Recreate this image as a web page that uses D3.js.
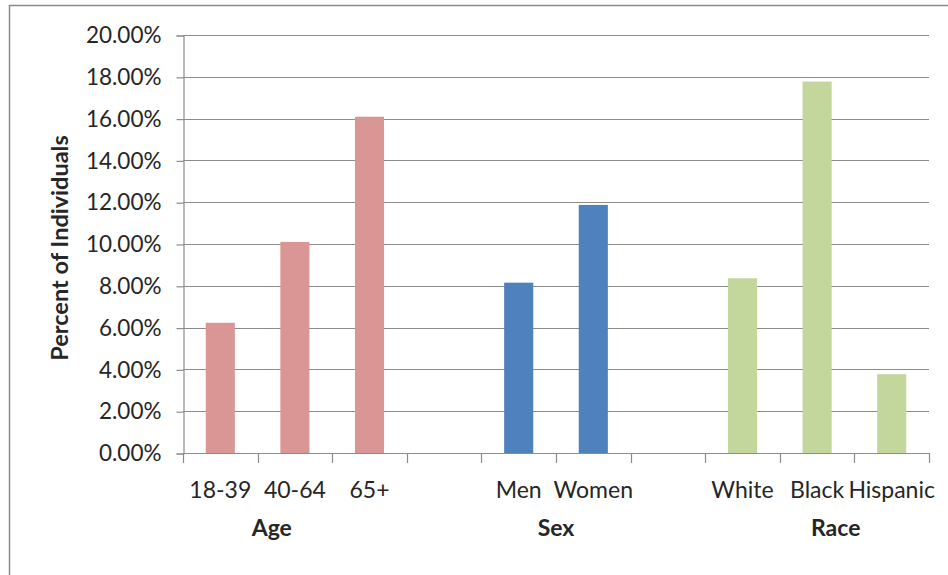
<!DOCTYPE html>
<html>
<head>
<meta charset="utf-8">
<script src="https://cdn.jsdelivr.net/npm/d3@7"></script>
<style>
  html, body { margin: 0; padding: 0; background: #fff; }
  svg { display: block; }
  text { font-family: Lato, "Open Sans", sans-serif; fill: #262626; }
</style>
</head>
<body>
<svg id="chart" width="948" height="575"></svg>
<script>
// Share of individuals by age, sex and race
const categories = ["18-39", "40-64", "65+", "gap1", "Men", "Women", "gap2", "White", "Black", "Hispanic"];
const values     = [6.23, 10.1, 16.09, null, 8.15, 11.87, null, 8.36, 17.77, 3.77];
const groupOf    = ["Age", "Age", "Age", null, "Sex", "Sex", null, "Race", "Race", "Race"];
const groups     = ["Age", "Sex", "Race"];
const groupColors = { Age: "#D99694", Sex: "#4F81BD", Race: "#C3D69B" };
const yTicks     = [0, 2, 4, 6, 8, 10, 12, 14, 16, 18, 20];
const yTitle     = "Percent of Individuals";
// where each group caption sits: reference category and offset in slot widths
const groupAnchor = { Age: ["40-64", -0.31], Sex: ["Women", -0.5], Race: ["Black", 0.25] };

const svg = d3.select("#chart");
const margin = { left: 183, right: 19, top: 35, bottom: 122 };
const W = 948, H = 575;

const x = d3.scaleBand().domain(categories).range([margin.left, W - margin.right]).padding(0);
const y = d3.scaleLinear().domain([0, 20]).range([H - margin.bottom, margin.top]);
const barW = x.step() * 0.39;
const gridColor = "#8c8c8c";

// outer frame (left and top edges)
svg.append("path")
  .attr("d", `M9.5,575 V5.5 H948`)
  .attr("fill", "none").attr("stroke", "#8a8a8a").attr("stroke-width", 1.5);

// horizontal gridlines
svg.append("g").selectAll("line")
  .data(yTicks.filter(t => t > 0))
  .join("line")
  .attr("x1", margin.left).attr("x2", W - margin.right)
  .attr("y1", d => Math.round(y(d)) + 0.5).attr("y2", d => Math.round(y(d)) + 0.5)
  .attr("stroke", gridColor).attr("stroke-width", 1.2);

// bars
svg.append("g").selectAll("rect")
  .data(categories.map((c, i) => ({ c, v: values[i], g: groupOf[i] })).filter(d => d.v != null))
  .join("rect")
  .attr("x", d => x(d.c) + (x.step() - barW) / 2)
  .attr("width", barW)
  .attr("y", d => y(d.v))
  .attr("height", d => y(0) - y(d.v))
  .attr("fill", d => groupColors[d.g]);

// y axis
const yAxis = d3.axisLeft(y).tickValues(yTicks).tickSize(7).tickPadding(15)
  .tickFormat(d => d.toFixed(2) + "%");
const gy = svg.append("g").attr("transform", `translate(${margin.left + 0.5},0.5)`).call(yAxis);
gy.select(".domain").attr("stroke", gridColor).attr("stroke-width", 1.2);
gy.selectAll(".tick line").attr("stroke", gridColor).attr("stroke-width", 1.2);
gy.selectAll(".tick text").style("font-size", "22.5px").attr("fill", "#262626");

// x axis: boundary ticks between category slots
const boundaries = categories.map(c => x(c)).concat([x.range()[1]]);
const gx = svg.append("g");
gx.append("line")
  .attr("x1", margin.left).attr("x2", W - margin.right)
  .attr("y1", y(0) + 0.5).attr("y2", y(0) + 0.5)
  .attr("stroke", gridColor).attr("stroke-width", 1.2);
gx.selectAll("line.tk").data(boundaries).join("line").attr("class", "tk")
  .attr("x1", d => Math.round(d) + 0.5).attr("x2", d => Math.round(d) + 0.5)
  .attr("y1", y(0)).attr("y2", y(0) + 10)
  .attr("stroke", gridColor).attr("stroke-width", 1.2);

// category labels
gx.selectAll("text.cat")
  .data(categories.filter((c, i) => groupOf[i] != null))
  .join("text").attr("class", "cat")
  .attr("x", d => x(d) + x.step() / 2)
  .attr("y", y(0) + 45)
  .attr("text-anchor", "middle")
  .style("font-size", "23px")
  .text(d => d);

// group captions
gx.selectAll("text.grp")
  .data(groups)
  .join("text").attr("class", "grp")
  .attr("x", g => x(groupAnchor[g][0]) + x.step() * (0.5 + groupAnchor[g][1]))
  .attr("y", y(0) + 83)
  .attr("text-anchor", "middle")
  .style("font-size", "23px").style("font-weight", "bold")
  .text(g => g);

// y axis title
svg.append("text")
  .attr("transform", `translate(68,${(y(0) + y(20)) / 2 + 4}) rotate(-90)`)
  .attr("text-anchor", "middle")
  .style("font-size", "23.5px").style("font-weight", "bold")
  .text(yTitle);
</script>
</body>
</html>
